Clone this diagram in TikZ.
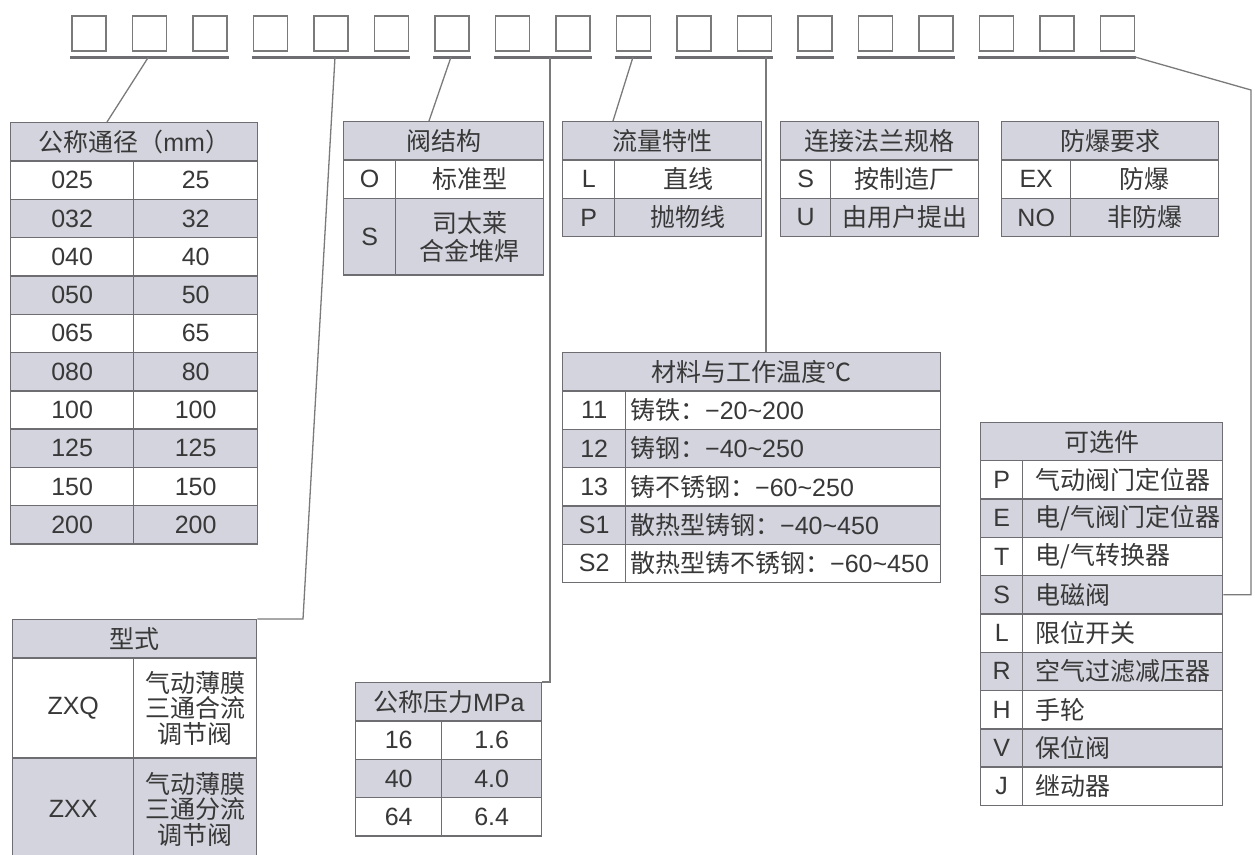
\documentclass[tikz,border=0pt]{standalone}
\usepackage{fontspec}
\setmainfont{Liberation Sans}
\newfontfamily\cjk{Noto Sans CJK SC}
\newcommand\zh[1]{{\cjk #1}}
\usetikzlibrary{calc}
\definecolor{bordc}{HTML}{6E6E72}
\definecolor{fillc}{HTML}{D3D4DD}
\definecolor{txtc}{HTML}{383838}
\definecolor{linec}{HTML}{7A7A7A}
\begin{document}
\begin{tikzpicture}[x=1pt,y=-1pt,
  cell/.style={draw=bordc, line width=1.4pt, anchor=north west, inner sep=0pt, text=txtc, align=center, font=\fontsize{25}{28}\selectfont},
  lbl/.style={anchor=west, inner sep=0pt, text=txtc, font=\fontsize{25}{28}\selectfont},
  sq/.style={draw=linec, line width=1.6pt, anchor=north west, minimum width=34pt, minimum height=35pt, inner sep=0pt},
  uline/.style={draw=bordc, line width=2.6pt},
  conn/.style={draw=linec, line width=1.3pt},
]
\useasboundingbox (0,0) rectangle (1255,854);

% code squares
\foreach \i in {0,...,17} \node[sq] (s\i) at ({71+60.5*\i},15) {};
% underlines
\draw[uline] ([shift={(-1pt,-6pt)}]s0.south west) -- ([shift={(1pt,-6pt)}]s2.south east);
\draw[uline] ([shift={(-1pt,-6pt)}]s3.south west) -- ([shift={(1pt,-6pt)}]s5.south east);
\draw[uline] ([shift={(-1pt,-6pt)}]s6.south west) -- ([shift={(1pt,-6pt)}]s6.south east);
\draw[uline] ([shift={(-1pt,-6pt)}]s7.south west) -- ([shift={(1pt,-6pt)}]s8.south east);
\draw[uline] ([shift={(-1pt,-6pt)}]s9.south west) -- ([shift={(1pt,-6pt)}]s9.south east);
\draw[uline] ([shift={(-1pt,-6pt)}]s10.south west) -- ([shift={(1pt,-6pt)}]s11.south east);
\draw[uline] ([shift={(-1pt,-6pt)}]s12.south west) -- ([shift={(1pt,-6pt)}]s12.south east);
\draw[uline] ([shift={(-1pt,-6pt)}]s13.south west) -- ([shift={(1pt,-6pt)}]s14.south east);
\draw[uline] ([shift={(-1pt,-6pt)}]s15.south west) -- ([shift={(1pt,-6pt)}]s17.south east);

% Table A: nominal diameter
\node[cell, fill=fillc, minimum width=247pt, minimum height=38.3pt] (A0) at (10,122) {\zh{公称通径（}mm\zh{）}};
\foreach \a/\b/\f [count=\i] in {025/25/white,032/32/fillc,040/40/white,050/50/fillc,065/65/white,080/80/fillc,100/100/white,125/125/fillc,150/150/white,200/200/fillc}{
  \node[cell, fill=\f, minimum width=123pt, minimum height=38.3pt] (Al\i) at (10,{160.3+38.3*(\i-1)}) {\a};
  \node[cell, fill=\f, minimum width=124pt, minimum height=38.3pt] (Ar\i) at (133,{160.3+38.3*(\i-1)}) {\b};
}

% Table B: valve structure
\node[cell, fill=fillc, minimum width=200pt, minimum height=38.3pt] (B0) at (343,121) {\zh{阀结构}};
\node[cell, fill=white, minimum width=52pt, minimum height=38.3pt] (Bl1) at (343,159.3) {O};
\node[cell, fill=white, minimum width=148pt, minimum height=38.3pt] (Br1) at (395,159.3) {\zh{标准型}};
\node[cell, fill=fillc, minimum width=52pt, minimum height=76.6pt] (Bl2) at (343,197.6) {S};
\node[cell, fill=fillc, minimum width=148pt, minimum height=76.6pt] (Br2) at (395,197.6) {\zh{司太莱}\\\zh{合金堆焊}};

% Table C: flow characteristic
\node[cell, fill=fillc, minimum width=199pt, minimum height=38.3pt] (C0) at (562,121) {\zh{流量特性}};
\node[cell, fill=white, minimum width=52pt, minimum height=38.3pt] (Cl1) at (562,159.3) {L};
\node[cell, fill=white, minimum width=147pt, minimum height=38.3pt] (Cr1) at (614,159.3) {\zh{直线}};
\node[cell, fill=fillc, minimum width=52pt, minimum height=38.3pt] (Cl2) at (562,197.6) {P};
\node[cell, fill=fillc, minimum width=147pt, minimum height=38.3pt] (Cr2) at (614,197.6) {\zh{抛物线}};

% Table D: flange spec
\node[cell, fill=fillc, minimum width=198pt, minimum height=38.3pt] (D0) at (780,121) {\zh{连接法兰规格}};
\node[cell, fill=white, minimum width=50pt, minimum height=38.3pt] (Dl1) at (780,159.3) {S};
\node[cell, fill=white, minimum width=148pt, minimum height=38.3pt] (Dr1) at (830,159.3) {\zh{按制造厂}};
\node[cell, fill=fillc, minimum width=50pt, minimum height=38.3pt] (Dl2) at (780,197.6) {U};
\node[cell, fill=fillc, minimum width=148pt, minimum height=38.3pt] (Dr2) at (830,197.6) {\zh{由用户提出}};

% Table E: explosion proof
\node[cell, fill=fillc, minimum width=217pt, minimum height=38.3pt] (E0) at (1001,121) {\zh{防爆要求}};
\node[cell, fill=white, minimum width=69pt, minimum height=38.3pt] (El1) at (1001,159.3) {EX};
\node[cell, fill=white, minimum width=148pt, minimum height=38.3pt] (Er1) at (1070,159.3) {\zh{防爆}};
\node[cell, fill=fillc, minimum width=69pt, minimum height=38.3pt] (El2) at (1001,197.6) {NO};
\node[cell, fill=fillc, minimum width=148pt, minimum height=38.3pt] (Er2) at (1070,197.6) {\zh{非防爆}};

% Table F: material & temperature
\node[cell, fill=fillc, minimum width=378pt, minimum height=38.3pt] (F0) at (562,352) {\zh{材料与工作温度℃}};
\foreach \a/\m/\r/\f [count=\i] in {11/铸铁/20\textasciitilde200/white,12/铸钢/40\textasciitilde250/fillc,13/铸不锈钢/60\textasciitilde250/white,S1/散热型铸钢/40\textasciitilde450/fillc,S2/散热型铸不锈钢/60\textasciitilde450/white}{
  \node[cell, fill=\f, minimum width=63pt, minimum height=38.3pt] (Fl\i) at (562,{390.3+38.3*(\i-1)}) {\a};
  \node[cell, fill=\f, minimum width=315pt, minimum height=38.3pt] (Fr\i) at (625,{390.3+38.3*(\i-1)}) {};
  \node[lbl] (Ft\i) at ([xshift=5pt]Fr\i.west) {\zh{\m：}−\r};
}

% Table G: options
\node[cell, fill=fillc, minimum width=242pt, minimum height=38.3pt] (G0) at (980,421.7) {\zh{可选件}};
\foreach \a/\m/\f [count=\i] in {P/气动阀门定位器/white,E/{电/气阀门定位器}/fillc,T/{电/气转换器}/white,S/电磁阀/fillc,L/限位开关/white,R/空气过滤减压器/fillc,H/手轮/white,V/保位阀/fillc,J/继动器/white}{
  \node[cell, fill=\f, minimum width=42pt, minimum height=38.3pt] (Gl\i) at (980,{460+38.3*(\i-1)}) {\a};
  \node[cell, fill=\f, minimum width=200pt, minimum height=38.3pt] (Gr\i) at (1022,{460+38.3*(\i-1)}) {};
  \node[lbl] (Gt\i) at ([xshift=13pt]Gr\i.west) {\zh{\m}};
}

% Table H: type
\node[cell, fill=fillc, minimum width=244pt, minimum height=38.3pt] (H0) at (12,619) {\zh{型式}};
\node[cell, fill=white, minimum width=121pt, minimum height=100pt] (Hl1) at (12,657.3) {ZXQ};
\node[cell, fill=white, minimum width=123pt, minimum height=100pt, font=\fontsize{25}{25.5}\selectfont] (Hr1) at (133,657.3) {\zh{气动薄膜}\\\zh{三通合流}\\\zh{调节阀}};
\node[cell, fill=fillc, minimum width=121pt, minimum height=102pt] (Hl2) at (12,757.3) {ZXX};
\node[cell, fill=fillc, minimum width=123pt, minimum height=102pt, font=\fontsize{25}{25.5}\selectfont] (Hr2) at (133,757.3) {\zh{气动薄膜}\\\zh{三通分流}\\\zh{调节阀}};

% Table I: nominal pressure
\node[cell, fill=fillc, minimum width=186pt, minimum height=38.3pt] (I0) at (355,682) {\zh{公称压力}MPa};
\foreach \a/\b/\f [count=\i] in {16/1.6/white,40/4.0/fillc,64/6.4/white}{
  \node[cell, fill=\f, minimum width=86pt, minimum height=38.3pt] (Il\i) at (355,{720.3+38.3*(\i-1)}) {\a};
  \node[cell, fill=\f, minimum width=100pt, minimum height=38.3pt] (Ir\i) at (441,{720.3+38.3*(\i-1)}) {\b};
}

% connectors
\coordinate (c1) at (148.5,57);
\coordinate (c2) at (335,57);
\coordinate (c2b) at (303,619);
\coordinate (c3) at (451,57);
\coordinate (c4) at (550,57);
\coordinate (c5) at (633,57);
\coordinate (c6) at (766,57);
\coordinate (c9) at (1135,57);
\coordinate (c9b) at (1251,90);
\draw[conn] (c1) -- ([xshift=97pt]A0.north west);
\draw[conn] (c2) -- (c2b) -- (H0.north east);
\draw[conn] (c3) -- ([xshift=86pt]B0.north west);
\draw[conn] (c4) |- (I0.north east);
\draw[conn] (c5) -- ([xshift=51pt]C0.north west);
\draw[conn] (c6) -- (c6 |- F0.north);
\draw[conn] (c9) -- (c9b) |- (Gr4.east);
\end{tikzpicture}
\end{document}
